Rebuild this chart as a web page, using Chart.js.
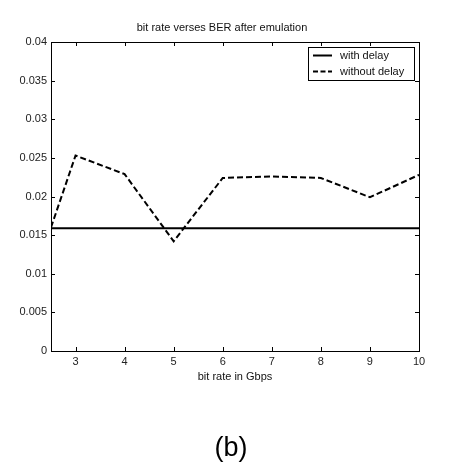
<!DOCTYPE html>
<html>
<head>
<meta charset="utf-8">
<script src="https://cdn.jsdelivr.net/npm/chart.js@4/dist/chart.umd.min.js"></script>
<style>
  html, body { margin: 0; padding: 0; background: #ffffff; }
  #wrap { position: relative; width: 450px; height: 476px; }
</style>
</head>
<body>
<div id="wrap"><canvas id="c" width="450" height="476"></canvas></div>
<script>
const chartTitle = 'bit rate verses BER after emulation';
const xAxisTitle = 'bit rate in Gbps';
const caption = '(b)';
const bitRates = [2.5, 3, 4, 5, 6, 7, 8, 9, 10];
const withDelay = [0.0159, 0.0159, 0.0159, 0.0159, 0.0159, 0.0159, 0.0159, 0.0159, 0.0159];
const withoutDelay = [0.0160, 0.0253, 0.0229, 0.0142, 0.0224, 0.0226, 0.0224, 0.0199, 0.0228];
const seriesLabels = ['with delay', 'without delay'];
const xTicks = [3, 4, 5, 6, 7, 8, 9, 10];
const yTicks = [0, 0.005, 0.01, 0.015, 0.02, 0.025, 0.03, 0.035, 0.04];

const FONT = '"Liberation Sans", Arial, sans-serif';

const framePlugin = {
  id: 'frame',
  afterDraw(chart) {
    const ctx = chart.ctx;
    const a = chart.chartArea;
    const xs = chart.scales.x, ys = chart.scales.y;
    ctx.save();
    ctx.strokeStyle = '#000';
    ctx.lineWidth = 1;
    // box
    ctx.strokeRect(Math.round(a.left) + 0.5, Math.round(a.top) + 0.5,
                   Math.round(a.right - a.left), Math.round(a.bottom - a.top));
    const tl = 4;
    ctx.beginPath();
    xTicks.forEach(v => {
      const px = Math.round(xs.getPixelForValue(v)) + 0.5;
      ctx.moveTo(px, a.bottom); ctx.lineTo(px, a.bottom - tl);
      ctx.moveTo(px, a.top); ctx.lineTo(px, a.top + tl);
    });
    yTicks.forEach(v => {
      const py = Math.round(ys.getPixelForValue(v)) + 0.5;
      ctx.moveTo(a.left, py); ctx.lineTo(a.left + tl, py);
      ctx.moveTo(a.right, py); ctx.lineTo(a.right - tl, py);
    });
    ctx.stroke();

    // legend
    const lx = 308, ly = 47, lw = 106, lh = 33;
    ctx.fillStyle = '#fff';
    ctx.fillRect(lx, ly, lw, lh);
    ctx.strokeRect(lx + 0.5, ly + 0.5, lw, lh);
    ctx.font = '11px ' + FONT;
    ctx.textBaseline = 'middle';
    ctx.textAlign = 'left';
    chart.data.datasets.forEach((ds, i) => {
      const yy = ly + 8.5 + i * 16;
      ctx.beginPath();
      ctx.lineWidth = ds.borderWidth;
      ctx.setLineDash(ds.borderDash ? [5, 2.5] : []);
      ctx.moveTo(lx + 5, yy); ctx.lineTo(lx + 24, yy);
      ctx.stroke();
      ctx.setLineDash([]);
      ctx.fillStyle = '#111';
      ctx.fillText(ds.label, lx + 32, yy);
    });

    // title and caption
    ctx.fillStyle = '#111';
    ctx.textAlign = 'center';
    ctx.font = '11px ' + FONT;
    ctx.fillText(chartTitle, 222, 28);
    ctx.fillStyle = '#000';
    ctx.font = '27px ' + FONT;
    ctx.fillText(caption, 231, 449);
    ctx.restore();
  }
};

new Chart(document.getElementById('c'), {
  type: 'line',
  data: {
    labels: bitRates,
    datasets: [
      {
        label: seriesLabels[0],
        data: bitRates.map((x, i) => ({ x: x, y: withDelay[i] })),
        borderColor: '#000',
        borderWidth: 2,
        pointRadius: 0,
        fill: false,
        tension: 0
      },
      {
        label: seriesLabels[1],
        data: bitRates.map((x, i) => ({ x: x, y: withoutDelay[i] })),
        borderColor: '#000',
        borderWidth: 2,
        borderDash: [6, 3],
        pointRadius: 0,
        fill: false,
        tension: 0
      }
    ]
  },
  options: {
    responsive: false,
    animation: false,
    events: [],
    layout: { padding: { left: 0, top: 42, right: 31, bottom: 85 } },
    plugins: {
      legend: { display: false },
      title: { display: false },
      tooltip: { enabled: false }
    },
    scales: {
      x: {
        type: 'linear',
        min: 2.5,
        max: 10,
        grid: { display: false, drawTicks: false },
        border: { display: false },
        afterBuildTicks(scale) { scale.ticks = xTicks.map(v => ({ value: v })); },
        afterFit(scale) { scale.height = 40; },
        ticks: {
          color: '#222',
          padding: 4,
          font: { family: FONT, size: 11 },
          maxRotation: 0,
          callback: v => String(v)
        },
        title: {
          display: true,
          text: xAxisTitle,
          color: '#111',
          font: { family: FONT, size: 11 },
          padding: { top: 0, bottom: 7 }
        }
      },
      y: {
        min: 0,
        max: 0.04,
        grid: { display: false, drawTicks: false },
        border: { display: false },
        afterBuildTicks(scale) { scale.ticks = yTicks.map(v => ({ value: v })); },
        afterFit(scale) { scale.width = 51; },
        ticks: {
          color: '#222',
          padding: 4,
          font: { family: FONT, size: 11 },
          callback: v => String(parseFloat(v.toFixed(4)))
        }
      }
    }
  },
  plugins: [framePlugin]
});
</script>
</body>
</html>
